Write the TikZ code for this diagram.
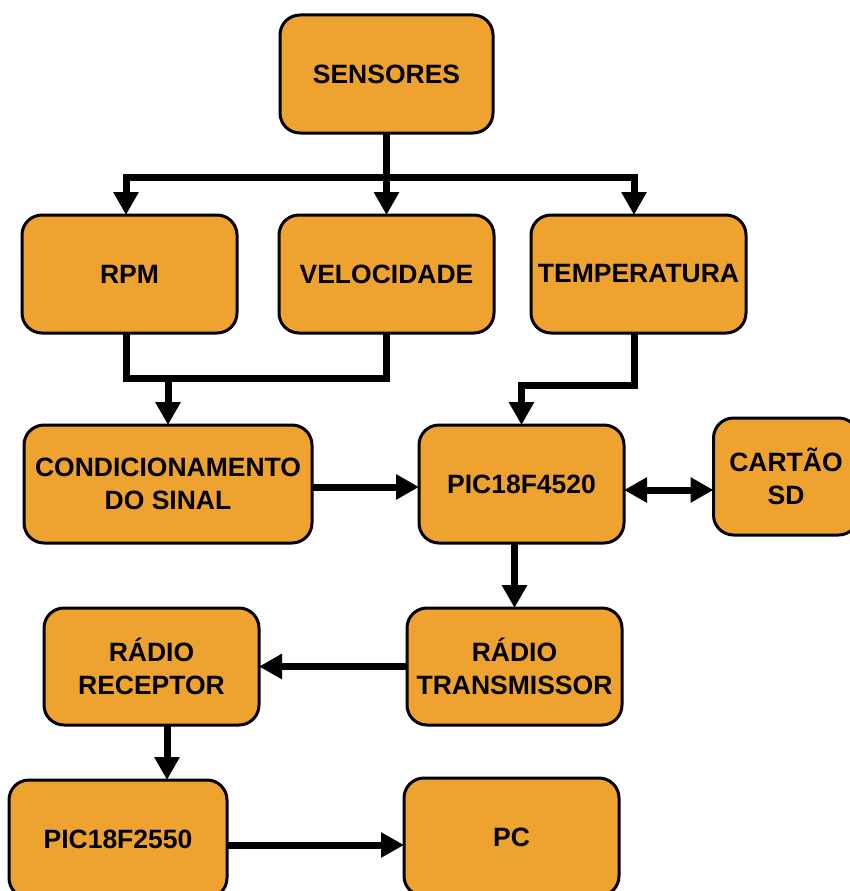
\documentclass[tikz,border=0pt]{standalone}
\usepackage{fontspec}
\setmainfont{Liberation Sans}
\usepackage{xcolor}
\usepackage{tikz}
\usetikzlibrary{arrows.meta, positioning}
\definecolor{boxorange}{RGB}{238,163,48}

\begin{document}
\begin{tikzpicture}[
    x=1pt, y=1pt,
    block/.style={rectangle, draw, line width=3pt, rounded corners=20pt, fill=boxorange, minimum width=215pt, minimum height=118pt, outer sep=0pt, inner sep=2pt, align=center, font=\fontsize{26.5}{33}\selectfont\bfseries},
    wire/.style={line width=7pt},
    arrow/.style={wire, -{Triangle[length=23pt, width=24pt]}}
]
    \clip (0,0) rectangle (850,-891);

    % Sensors
    \node[block, minimum width=213pt] (sens) at (386.5,-74) {SENSORES};
    \node[block, below=82pt of sens] (vel) {VELOCIDADE};
    \node[block, left=42pt of vel] (rpm) {RPM};
    \node[block, right=37pt of vel] (temp) {TEMPERATURA};

    % Processing
    \node[block, minimum width=288pt, below=92pt of rpm, xshift=38.5pt] (cond) {CONDICIONAMENTO\\DO SINAL};
    \node[block, minimum width=205pt, right=107pt of cond] (pic1) {PIC18F4520};
    \node[block, minimum width=145pt, minimum height=117pt, right=87pt of pic1, yshift=7.5pt, xshift=2.5pt] (sd) {CARTÃO\\SD};

    % Radio link
    \node[block, minimum height=117pt, below=65pt of pic1, xshift=-7pt] (tx) {RÁDIO\\TRANSMISSOR};
    \node[block, minimum height=117pt, left=148pt of tx] (rx) {RÁDIO\\RECEPTOR};

    % Receiver side
    \node[block, minimum width=218pt, below=55pt of rx, xshift=-33.5pt] (pic2) {PIC18F2550};
    \node[block, right=177pt of pic2, yshift=2pt] (pc) {PC};

    % Arrows - sensors
    \draw[arrow] (sens.south) -- ++(0,-44) -| ([xshift=-3.5pt]rpm.north);
    \draw[arrow] (sens.south) -- ++(0,-44) -| ([xshift=-4.5pt]temp.north);
    \draw[arrow] (sens) -- (vel);

    % Arrows - merge
    \coordinate (jn) at ([xshift=-3.5pt, yshift=-45pt]rpm.south);
    \draw[wire] ([xshift=-3.5pt]rpm.south) -- (jn) -| (vel.south);
    \draw[arrow] (jn -| cond.north) -- (cond.north);
    \draw[arrow] ([xshift=-4.5pt]temp.south) -- ++(0,-52) -| (pic1.north);

    % Arrows - main flow
    \draw[arrow] ([yshift=-3pt]cond.east) -- ([yshift=-3pt]pic1.west);
    \draw[arrow, {Triangle[length=23pt, width=24pt]}-{Triangle[length=23pt, width=24pt]}] ([yshift=-6pt]pic1.east) -- ([yshift=-6pt]pic1.east -| sd.west);
    \draw[arrow] (pic1.south -| tx.north) -- (tx.north);
    \draw[arrow] (tx.west) -- (rx.east);
    \draw[arrow] ([xshift=15.5pt]rx.south) -- ([xshift=15.5pt]rx.south |- pic2.north);
    \draw[arrow] ([yshift=-6pt]pic2.east) -- ([yshift=-6pt]pic2.east -| pc.west);

\end{tikzpicture}
\end{document}
